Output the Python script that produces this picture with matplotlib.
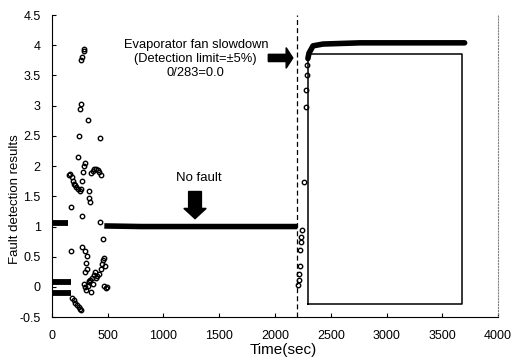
import matplotlib
matplotlib.use('Agg')
import matplotlib.pyplot as plt
from matplotlib.patches import FancyArrow

plt.rcParams['font.family'] = ['Liberation Sans', 'DejaVu Sans']

# steady bars at start-up (time range, level)
bar_start = [0, 0, 0]
bar_end = [140, 175, 175]
bar_level = [1.06, 0.09, -0.10]

# scattered start-up transient points
trans_t = [150, 165, 180, 190, 200, 210, 220, 235, 250, 262,
           270, 280, 290, 300, 285, 288, 273, 262, 258, 324, 433,
           350, 365, 380, 395, 410, 425, 440,
           333, 167, 267, 427, 455, 267, 167, 318,
           180, 195, 210, 225, 240, 255, 265,
           290, 300, 310, 320, 330, 345, 360, 375, 390, 405, 418,
           300, 315, 330, 350, 370, 395,
           440, 450, 460, 470, 480, 485, 470, 490,
           230, 245, 255, 330, 340, 300, 310]
trans_v = [1.85, 1.87, 1.82, 1.75, 1.70, 1.68, 1.65, 1.62, 1.58, 1.62,
           1.75, 1.90, 2.00, 2.05, 3.94, 3.90, 3.80, 3.75, 3.03, 2.77, 2.47,
           1.88, 1.92, 1.95, 1.95, 1.93, 1.90, 1.85,
           1.58, 1.33, 1.18, 1.08, 0.80, 0.66, 0.60, 0.52,
           -0.18, -0.22, -0.26, -0.30, -0.33, -0.36, -0.38,
           0.05, 0.00, -0.05, 0.02, 0.08, 0.12, 0.15, 0.20, 0.25, 0.18, 0.22,
           0.25, 0.30, 0.10, -0.08, 0.05, 0.15,
           0.30, 0.38, 0.45, 0.48, 0.35, -0.02, 0.02, 0.00,
           2.15, 2.50, 2.95, 1.48, 1.40, 0.60, 0.40]

# no fault steady line
steady_t = [470, 800, 1200, 1600, 2000, 2200]
steady_v = [1.01, 1.00, 1.00, 1.00, 1.00, 1.00]

# fault transient points
fault_t = [2205, 2212, 2218, 2225, 2228, 2232, 2236, 2240, 2260, 2278, 2280, 2285, 2290]
fault_v = [0.03, 0.12, 0.22, 0.35, 0.62, 0.75, 0.82, 0.95, 1.74, 2.98, 3.26, 3.51, 3.68]

# fault steady curve
fault_line_t = [2295, 2305, 2341, 2430, 2762, 3200, 3700]
fault_line_v = [3.78, 3.87, 3.99, 4.02, 4.04, 4.04, 4.04]

# box
box_t = [2300, 2300, 3680, 3680, 2300]
box_v = [-0.29, 3.85, 3.85, -0.29, -0.29]

fig = plt.figure(figsize=(5.14, 3.58), dpi=100)
ax = fig.add_axes([0.101, 0.114, 0.868, 0.844])

for s, e, lv in zip(bar_start, bar_end, bar_level):
    ax.plot([s, e], [lv, lv], color='black', lw=4.2, solid_capstyle='butt')
ax.plot(trans_t, trans_v, 'o', ms=3.2, mfc='none', mec='black', mew=1.0)
ax.plot(steady_t, steady_v, color='black', lw=4.0, solid_capstyle='butt')
ax.plot(fault_t, fault_v, 'o', ms=3.2, mfc='none', mec='black', mew=1.0)
ax.plot(fault_line_t, fault_line_v, color='black', lw=4.0, solid_capstyle='round')
ax.plot(box_t, box_v, color='black', lw=1.1)
ax.axvline(2200, color='black', ls=(0, (4, 2.5)), lw=0.9)

ax.add_patch(FancyArrow(1940, 3.79, 160, 0, width=0.12, head_width=0.34,
                        head_length=60, length_includes_head=False, color='black'))
ax.add_patch(FancyArrow(1283, 1.58, 0, -0.28, width=115, head_width=200,
                        head_length=0.17, color='black'))

ax.text(1318, 1.81, 'No fault', ha='center', va='center', fontsize=9.5)
ax.text(1290, 3.77, 'Evaporator fan slowdown\n(Detection limit=\u00b15%)\n0/283=0.0',
        ha='center', va='center', fontsize=9.3, linespacing=1.2)

ax.set_xlim(0, 4000)
ax.set_ylim(-0.5, 4.5)
ax.set_xticks(range(0, 4001, 500))
ax.set_yticks([-0.5, 0, 0.5, 1, 1.5, 2, 2.5, 3, 3.5, 4, 4.5])
ax.set_yticklabels(['-0.5', '0', '0.5', '1', '1.5', '2', '2.5', '3', '3.5', '4', '4.5'])
ax.tick_params(direction='in', length=3, labelsize=9)
ax.tick_params(axis='x', pad=9)
ax.tick_params(axis='y', pad=8)
ax.spines['top'].set_visible(False)
ax.spines['right'].set_linestyle(':')
ax.spines['right'].set_color('gray')
ax.set_xlabel('Time(sec)', fontsize=11)
ax.xaxis.set_label_coords(0.518, -0.085)
ax.set_ylabel('Fault detection results', fontsize=9.5)
ax.yaxis.set_label_coords(-0.07, 0.39)

fig.savefig('out.png', dpi=100)
